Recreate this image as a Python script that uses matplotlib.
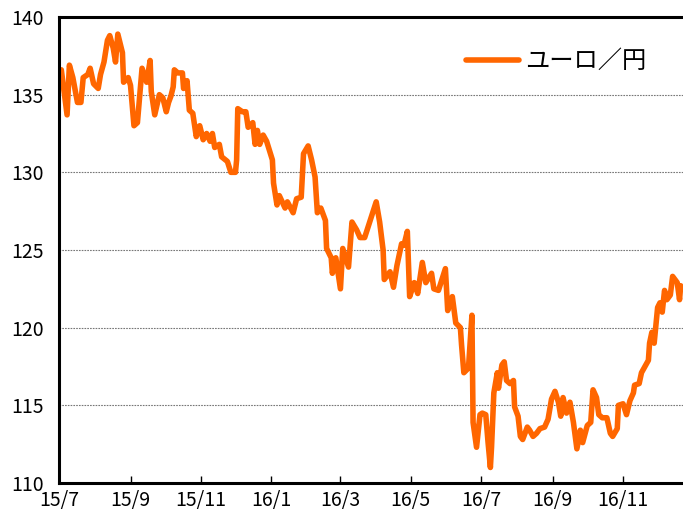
import pandas as pd
import matplotlib
matplotlib.use("Agg")
import matplotlib.pyplot as plt

plt.rcParams['font.family'] = ['Noto Sans CJK JP', 'DejaVu Sans']

# ユーロ／円
dates = [
    "2015-07-01", "2015-07-03", "2015-07-08", "2015-07-10", "2015-07-13", "2015-07-17",
    "2015-07-20", "2015-07-22", "2015-07-26", "2015-07-28", "2015-07-31", "2015-08-04",
    "2015-08-06", "2015-08-09", "2015-08-12", "2015-08-14", "2015-08-17", "2015-08-19",
    "2015-08-21", "2015-08-25", "2015-08-26", "2015-08-30", "2015-09-01", "2015-09-04",
    "2015-09-07", "2015-09-11", "2015-09-15", "2015-09-18", "2015-09-19", "2015-09-22",
    "2015-09-26", "2015-09-29", "2015-10-02", "2015-10-04", "2015-10-06", "2015-10-08",
    "2015-10-09", "2015-10-12", "2015-10-16", "2015-10-17", "2015-10-20", "2015-10-22",
    "2015-10-25", "2015-10-28", "2015-10-31", "2015-11-03", "2015-11-06", "2015-11-09",
    "2015-11-11", "2015-11-13", "2015-11-17", "2015-11-19", "2015-11-24", "2015-11-27",
    "2015-12-01", "2015-12-02", "2015-12-03", "2015-12-07", "2015-12-10", "2015-12-12",
    "2015-12-16", "2015-12-18", "2015-12-20", "2015-12-22", "2015-12-25", "2015-12-28",
    "2016-01-02", "2016-01-03", "2016-01-06", "2016-01-08", "2016-01-13", "2016-01-15",
    "2016-01-20", "2016-01-23", "2016-01-27", "2016-01-29", "2016-02-02", "2016-02-05",
    "2016-02-08", "2016-02-10", "2016-02-13", "2016-02-17", "2016-02-18", "2016-02-22",
    "2016-02-23", "2016-02-26", "2016-03-01", "2016-03-03", "2016-03-08", "2016-03-11",
    "2016-03-15", "2016-03-18", "2016-03-22", "2016-03-29", "2016-04-01", "2016-04-04",
    "2016-04-07", "2016-04-08", "2016-04-13", "2016-04-16", "2016-04-19", "2016-04-23",
    "2016-04-25", "2016-04-28", "2016-04-30", "2016-05-04", "2016-05-07", "2016-05-11",
    "2016-05-14", "2016-05-19", "2016-05-21", "2016-05-25", "2016-05-31", "2016-06-02",
    "2016-06-06", "2016-06-09", "2016-06-13", "2016-06-14", "2016-06-16", "2016-06-20",
    "2016-06-23", "2016-06-24", "2016-06-27", "2016-06-30", "2016-07-02", "2016-07-05",
    "2016-07-07", "2016-07-09", "2016-07-10", "2016-07-12", "2016-07-15", "2016-07-16",
    "2016-07-19", "2016-07-21", "2016-07-23", "2016-07-26", "2016-07-29", "2016-07-30",
    "2016-08-02", "2016-08-04", "2016-08-06", "2016-08-10", "2016-08-12", "2016-08-15",
    "2016-08-18", "2016-08-21", "2016-08-25", "2016-08-28", "2016-08-31", "2016-09-03",
    "2016-09-06", "2016-09-08", "2016-09-10", "2016-09-13", "2016-09-16", "2016-09-19",
    "2016-09-22", "2016-09-25", "2016-09-27", "2016-10-01", "2016-10-04", "2016-10-06",
    "2016-10-09", "2016-10-11", "2016-10-14", "2016-10-18", "2016-10-21", "2016-10-23",
    "2016-10-27", "2016-10-28", "2016-11-01", "2016-11-04", "2016-11-07", "2016-11-10",
    "2016-11-11", "2016-11-15", "2016-11-17", "2016-11-20", "2016-11-23", "2016-11-24",
    "2016-11-26", "2016-11-28", "2016-12-01", "2016-12-03", "2016-12-05", "2016-12-07",
    "2016-12-09", "2016-12-12", "2016-12-14", "2016-12-18", "2016-12-20", "2016-12-21",
]
eurjpy = [
    136.3, 136.6, 133.7, 136.9, 136.1, 134.5,
    134.5, 136.1, 136.3, 136.7, 135.7, 135.4,
    136.3, 137.1, 138.5, 138.8, 138.0, 137.1,
    138.9, 137.7, 135.8, 136.1, 135.6, 133.0,
    133.2, 136.7, 135.8, 137.2, 135.2, 133.7,
    135.0, 134.8, 133.9, 134.5, 134.9, 135.5,
    136.6, 136.4, 136.4, 135.4, 135.9, 134.0,
    133.8, 132.3, 133.0, 132.1, 132.5, 132.0,
    132.5, 131.6, 131.8, 131.0, 130.7, 130.0,
    130.0, 130.8, 134.1, 133.9, 133.9, 132.9,
    133.2, 131.8, 132.7, 131.8, 132.4, 132.0,
    130.8, 129.3, 127.9, 128.5, 127.7, 128.1,
    127.4, 128.3, 128.4, 131.2, 131.7, 130.8,
    129.7, 127.4, 127.7, 126.9, 125.1, 124.5,
    123.5, 124.5, 122.5, 125.1, 123.9, 126.8,
    126.3, 125.8, 125.8, 127.4, 128.1, 126.8,
    125.0, 123.1, 123.6, 122.6, 124.0, 125.4,
    125.3, 126.2, 122.0, 122.9, 122.2, 124.2,
    122.9, 123.5, 122.5, 122.4, 123.8, 121.1,
    122.0, 120.3, 120.0, 118.9, 117.1, 117.4,
    120.8, 113.9, 112.3, 114.4, 114.5, 114.4,
    112.6, 111.0, 112.3, 115.8, 117.1, 116.1,
    117.6, 117.8, 116.6, 116.4, 116.6, 114.9,
    114.3, 113.0, 112.8, 113.6, 113.4, 113.0,
    113.2, 113.5, 113.6, 114.1, 115.4, 115.9,
    115.2, 114.3, 115.5, 114.5, 115.2, 113.9,
    112.2, 113.4, 112.6, 113.7, 113.9, 116.0,
    115.5, 114.4, 114.2, 114.2, 113.2, 113.0,
    113.5, 115.0, 115.1, 114.4, 115.3, 115.8,
    116.3, 116.4, 117.1, 117.5, 117.9, 119.0,
    119.7, 119.0, 121.3, 121.6, 121.0, 122.4,
    121.8, 122.1, 123.3, 122.9, 121.8, 122.7,
]
tick_dates = ["2015-07-01", "2015-09-01", "2015-11-01", "2016-01-01", "2016-03-01",
              "2016-05-01", "2016-07-01", "2016-09-01", "2016-11-01"]
tick_labels = ["15/7", "15/9", "15/11", "16/1", "16/3", "16/5", "16/7", "16/9", "16/11"]
y_ticks = [110, 115, 120, 125, 130, 135, 140]

x = pd.to_datetime(dates)

fig = plt.figure(figsize=(6.83, 5.15), dpi=100)
ax = fig.add_axes([59 / 683, 32 / 515, 1 - 59 / 683, 466 / 515])

ax.plot(x, eurjpy, color="#ff6600", lw=4.0, solid_joinstyle="round",
        solid_capstyle="round", label="ユーロ／円")

ax.set_xlim(pd.Timestamp("2015-07-01"), pd.Timestamp("2016-12-23"))
ax.set_ylim(110, 140)
ax.set_yticks(y_ticks)
ax.set_xticks(pd.to_datetime(tick_dates))
ax.set_xticklabels(tick_labels)

# dotted grid lines
for v in y_ticks[1:-1]:
    ax.axhline(v, color="#777777", lw=0.8, ls=(0, (1.5, 1)), zorder=0)

for s in ["left", "bottom", "top"]:
    ax.spines[s].set_linewidth(2.2)
ax.spines["right"].set_visible(False)

ax.tick_params(axis="y", length=0, pad=11, labelsize=14)
ax.tick_params(axis="x", direction="in", length=5, width=1, pad=5, labelsize=14)

ax.legend(loc="center left", bbox_to_anchor=(0.652, 0.905), frameon=False,
          fontsize=17.5, handlelength=2.2, handletextpad=0.25, borderpad=0,
          borderaxespad=0)

fig.savefig("out.png", dpi=100)
